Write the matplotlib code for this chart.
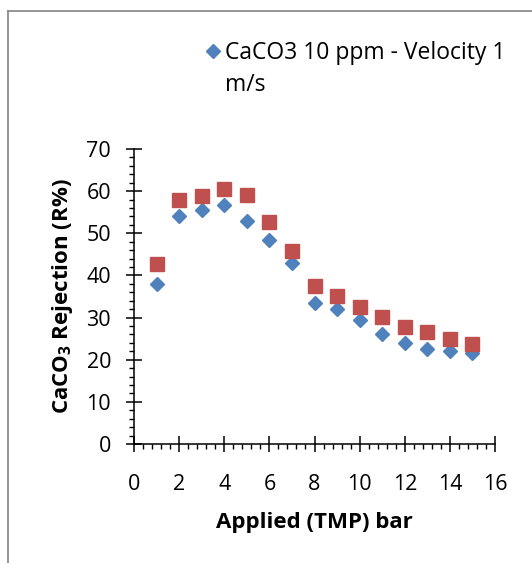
import numpy as np
import matplotlib
matplotlib.use('Agg')
import matplotlib.pyplot as plt
from matplotlib.lines import Line2D
from matplotlib.ticker import MultipleLocator

plt.rcParams['font.family'] = ['Open Sans', 'DejaVu Sans']
plt.rcParams['mathtext.fontset'] = 'custom'
plt.rcParams['mathtext.rm'] = 'Open Sans'
plt.rcParams['mathtext.bf'] = 'Open Sans:bold'

# applied TMP (bar)
tmp = [1, 2, 3, 4, 5, 6, 7, 8, 9, 10, 11, 12, 13, 14, 15]
# CaCO3 10 ppm - velocity 1 m/s
rej_v1 = [37.9, 54.0, 55.6, 56.8, 53.0, 48.3, 42.9, 33.5, 32.1, 29.4, 26.0, 24.0, 22.6, 22.0, 21.5]
# second series (legend entry cut off in original)
rej_v2 = [42.8, 58.0, 58.8, 60.5, 59.1, 52.6, 45.8, 37.5, 35.1, 32.4, 30.2, 27.8, 26.6, 24.9, 23.7]

fs = 15.5

fig = plt.figure(figsize=(5.32, 5.63), dpi=100)
ax = fig.add_axes([0.2519, 0.2114, 0.6786, 0.5239])

ax.plot(tmp, rej_v1, linestyle='none', marker='D', markersize=6.8,
        color='#4F81BD', label='CaCO3 10 ppm - Velocity 1', clip_on=False)
ax.plot(tmp, rej_v2, linestyle='none', marker='s', markersize=9.4,
        color='#C0504D', clip_on=False)

ax.set_xlim(0, 16)
ax.set_ylim(0, 70)
ax.xaxis.set_major_locator(MultipleLocator(2))
ax.xaxis.set_minor_locator(MultipleLocator(0.4))
ax.yaxis.set_major_locator(MultipleLocator(10))
ax.yaxis.set_minor_locator(MultipleLocator(2))

for s in ['top', 'right']:
    ax.spines[s].set_visible(False)
for s in ['left', 'bottom']:
    ax.spines[s].set_linewidth(1.1)

ax.tick_params(which='major', direction='inout', length=11, width=1.1, labelsize=fs, pad=11)
ax.tick_params(axis='x', which='major', pad=16)
ax.tick_params(which='minor', direction='out', length=3.5, width=1.0)

ax.set_xlabel('Applied (TMP) bar', fontsize=16, fontweight='bold', labelpad=12)
ax.set_ylabel('CaCO$_\\mathbf{3}$ Rejection (R%)', fontsize=16, fontweight='bold', labelpad=8)

leg = ax.legend(loc='upper left', bbox_to_anchor=(206 / 532, 1 - 41 / 563),
                bbox_transform=fig.transFigure, frameon=False, fontsize=16.5,
                handlelength=0.6, handletextpad=0.25, borderpad=0, borderaxespad=0)

# second line of the legend label
fig.canvas.draw()
bb = leg.get_texts()[0].get_window_extent()
fig.text(bb.x0 / 532, 1 - 91 / 563, 'm/s', fontsize=16.5, ha='left', va='baseline')

# chart area border (gray, cut at right and bottom)
fig.add_artist(Line2D([8 / 532, 8 / 532], [0, 1 - 11 / 563], transform=fig.transFigure,
                      color='#8c8c8c', linewidth=1.3))
fig.add_artist(Line2D([8 / 532, 1], [1 - 11 / 563, 1 - 11 / 563], transform=fig.transFigure,
                      color='#8c8c8c', linewidth=1.3))

fig.savefig('out.png', dpi=100)
